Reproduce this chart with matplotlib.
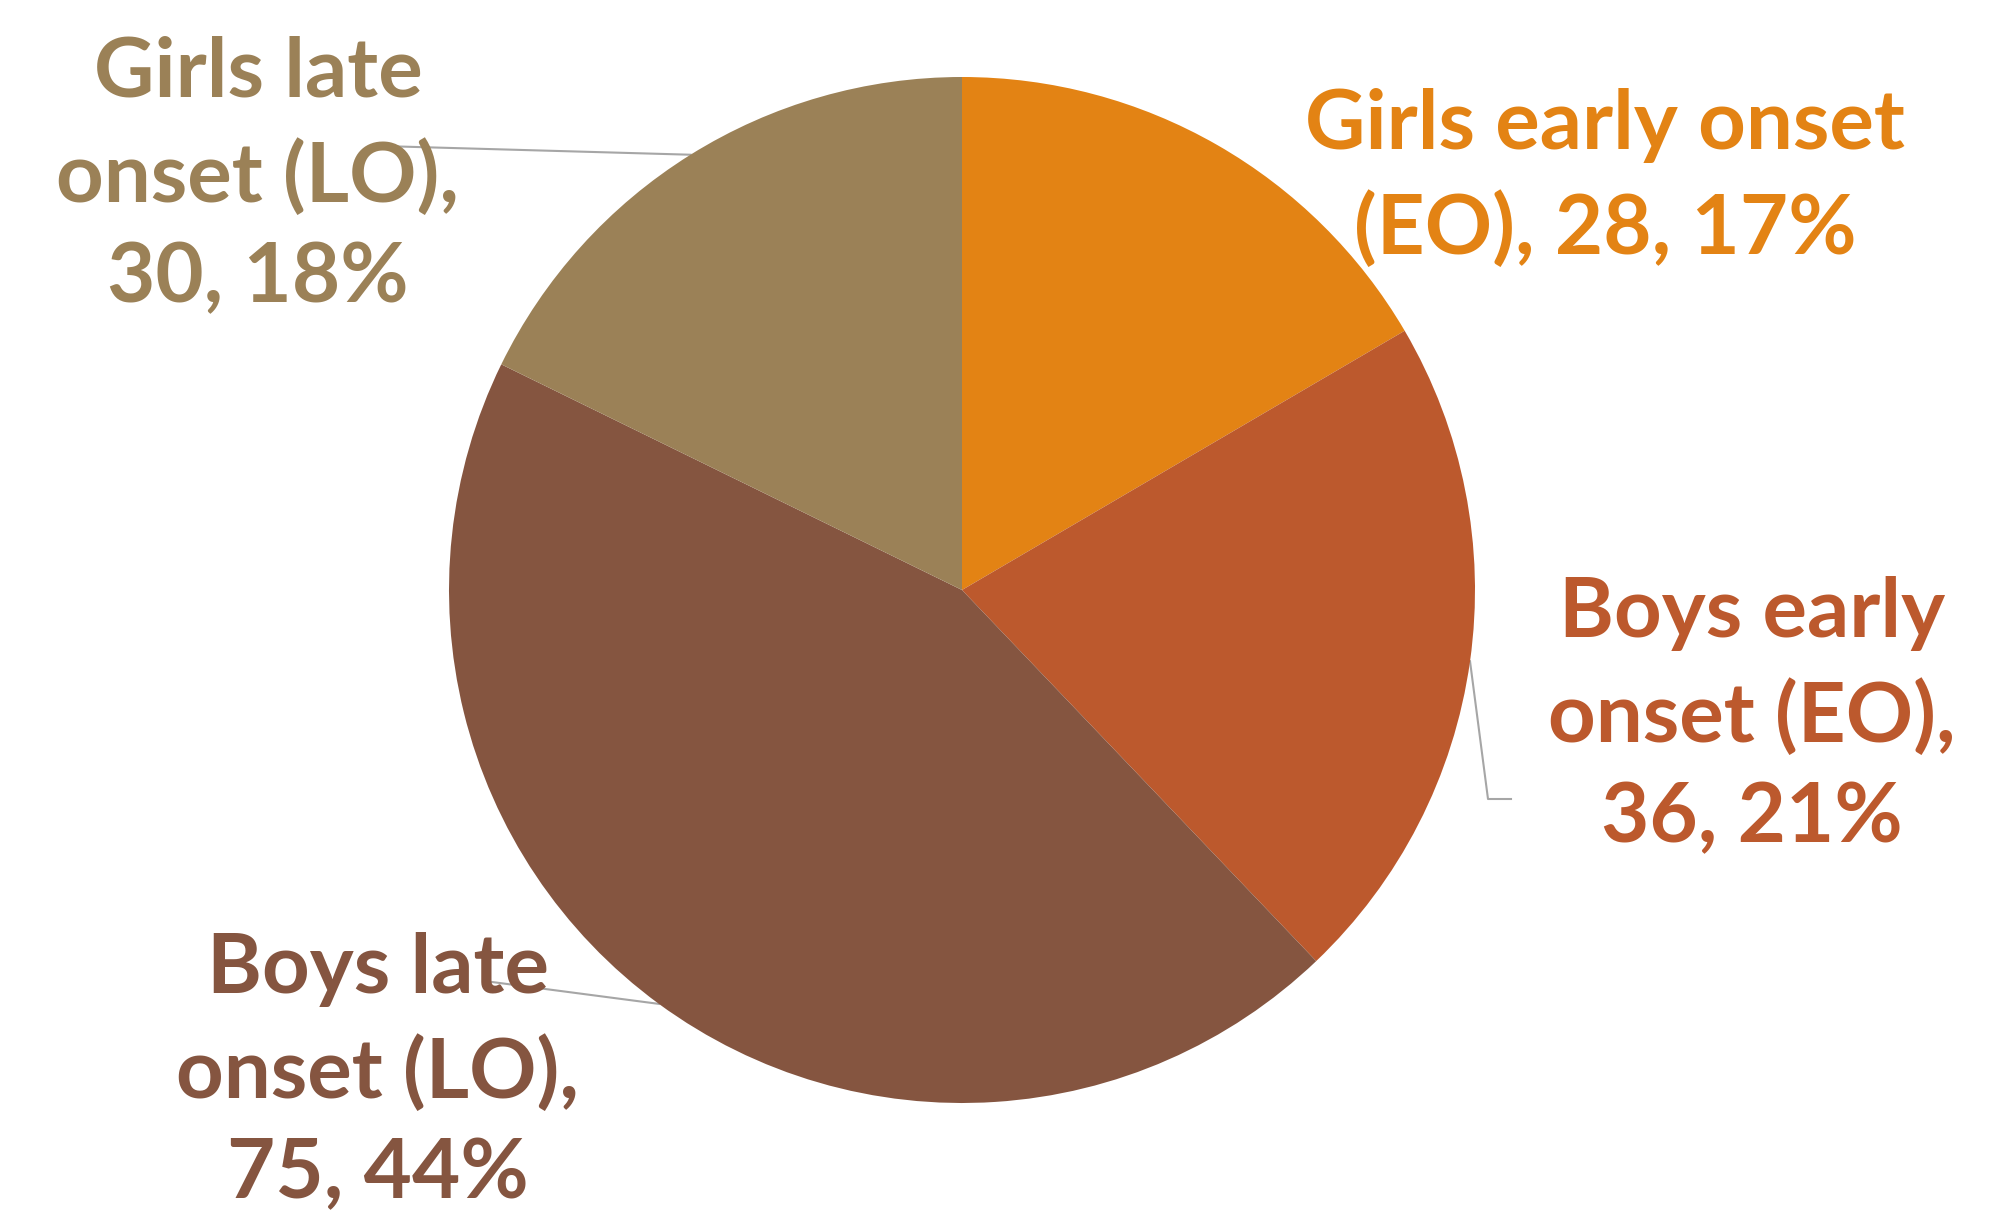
import numpy as np
import matplotlib.pyplot as plt

# data
labels = ["Girls early onset\n(EO)", "Boys early\nonset (EO)", "Boys late\nonset (LO)", "Girls late\nonset (LO)"]
values = [28, 36, 75, 30]
colors = ["#E38314", "#BC592D", "#855540", "#9B8157"]
# break between name and numbers
seps = [" ", "\n", "\n", "\n"]

total = sum(values)
pcts = [round(v / total * 100) for v in values]

W, H = 1990, 1222
fig = plt.figure(figsize=(W / 100, H / 100), dpi=100)
ax = fig.add_axes([0, 0, 1, 1])

cx, cy, r = 962, H - 590, 513

wedges, _ = ax.pie(values, colors=colors, startangle=90, counterclock=False,
                   center=(cx, cy), radius=r, frame=True,
                   wedgeprops=dict(linewidth=0))
ax.set_xlim(0, W)
ax.set_ylim(0, H)
ax.set_aspect("equal")
ax.axis("off")

# label block centers (image px) and leader line bends/ends
label_pos = [(1605, 178), (1752, 716), (378, 1072), (258, 176)]
leader_end = [None, [(1488, 799), (1511, 799)], [(492, 982)], [(381, 146)]]

for i, w in enumerate(wedges):
    txt = "%s,%s%d, %d%%" % (labels[i], seps[i], values[i], pcts[i])
    x, y = label_pos[i]
    ax.text(x, H - y, txt, ha="center", va="center", color=colors[i],
            fontsize=60, fontweight="bold", family="Lato", linespacing=1.42)
    if leader_end[i] is not None:
        mid = np.deg2rad((w.theta1 + w.theta2) / 2)
        xs = [cx + r * np.cos(mid)] + [p[0] for p in leader_end[i]]
        ys = [cy + r * np.sin(mid)] + [H - p[1] for p in leader_end[i]]
        ax.plot(xs, ys, color="#A6A6A6", lw=1.5, zorder=0)

fig.savefig("out.png", dpi=100)
